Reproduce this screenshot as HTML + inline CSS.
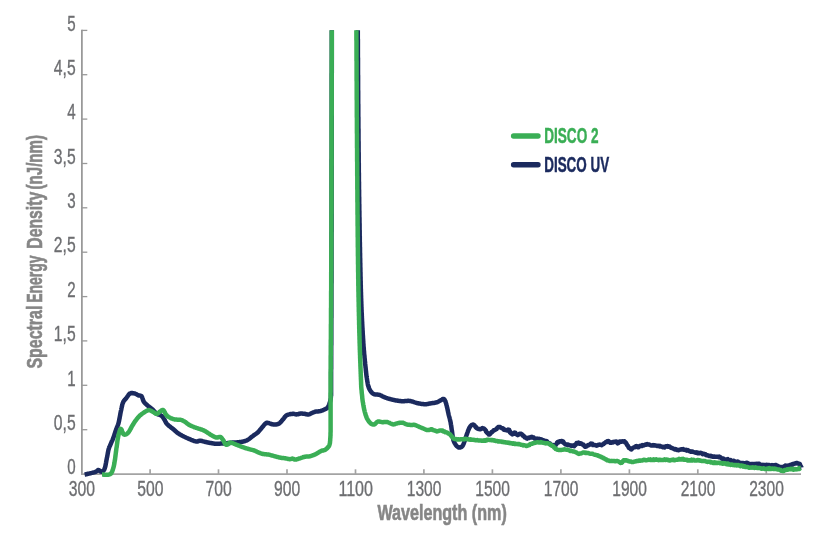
<!DOCTYPE html>
<html lang="en"><head><meta charset="utf-8"><title>Spectral Energy Density</title>
<style>
html,body{margin:0;padding:0;background:#fff;}
body{width:814px;height:540px;overflow:hidden;}
svg{display:block;}
text{font-family:"Liberation Sans",sans-serif;}
.tick{fill:#6d6e71;stroke:#6d6e71;stroke-width:0.35;font-size:21.5px;}
.title{fill:#868686;stroke:#868686;stroke-width:0.6;font-size:21.6px;font-weight:bold;}
.leg{font-size:22.3px;font-weight:bold;stroke-width:0.5;}
</style></head><body>
<svg width="814" height="540" viewBox="0 0 814 540">
<defs><clipPath id="plot"><rect x="70" y="30.3" width="744" height="460"/></clipPath></defs>
<rect width="814" height="540" fill="#ffffff"/>

<g stroke="#a3a3a3" stroke-width="1.7" fill="none">
<path stroke="#8e8e8e" stroke-width="1.6" d="M81.9 29.7V474.80"/>
<path d="M81 474.1H801"/>
<path stroke-width="1.3" stroke="#999" d="M81.7 429.7H87.3"/>
<path stroke-width="1.3" stroke="#999" d="M81.7 385.3H87.3"/>
<path stroke-width="1.3" stroke="#999" d="M81.7 340.9H87.3"/>
<path stroke-width="1.3" stroke="#999" d="M81.7 296.6H87.3"/>
<path stroke-width="1.3" stroke="#999" d="M81.7 252.2H87.3"/>
<path stroke-width="1.3" stroke="#999" d="M81.7 207.8H87.3"/>
<path stroke-width="1.3" stroke="#999" d="M81.7 163.5H87.3"/>
<path stroke-width="1.3" stroke="#999" d="M81.7 119.1H87.3"/>
<path stroke-width="1.3" stroke="#999" d="M81.7 74.7H87.3"/>
<path stroke-width="1.3" stroke="#999" d="M81.7 30.4H87.3"/>
<path d="M150.1 469.3V474.1"/>
<path d="M218.5 469.3V474.1"/>
<path d="M287.0 469.3V474.1"/>
<path d="M355.5 469.3V474.1"/>
<path d="M423.9 469.3V474.1"/>
<path d="M492.4 469.3V474.1"/>
<path d="M560.9 469.3V474.1"/>
<path d="M629.4 469.3V474.1"/>
<path d="M697.8 469.3V474.1"/>
<path d="M766.3 469.3V474.1"/>
</g>
<text class="tick" x="75.6" y="474.2" text-anchor="end" textLength="8.4" lengthAdjust="spacingAndGlyphs">0</text>
<text class="tick" x="75.6" y="429.9" text-anchor="end" textLength="21.8" lengthAdjust="spacingAndGlyphs">0,5</text>
<text class="tick" x="75.6" y="385.5" text-anchor="end" textLength="8.4" lengthAdjust="spacingAndGlyphs">1</text>
<text class="tick" x="75.6" y="341.1" text-anchor="end" textLength="21.8" lengthAdjust="spacingAndGlyphs">1,5</text>
<text class="tick" x="75.6" y="296.8" text-anchor="end" textLength="8.4" lengthAdjust="spacingAndGlyphs">2</text>
<text class="tick" x="75.6" y="252.4" text-anchor="end" textLength="21.8" lengthAdjust="spacingAndGlyphs">2,5</text>
<text class="tick" x="75.6" y="208.0" text-anchor="end" textLength="8.4" lengthAdjust="spacingAndGlyphs">3</text>
<text class="tick" x="75.6" y="163.7" text-anchor="end" textLength="21.8" lengthAdjust="spacingAndGlyphs">3,5</text>
<text class="tick" x="75.6" y="119.3" text-anchor="end" textLength="8.4" lengthAdjust="spacingAndGlyphs">4</text>
<text class="tick" x="75.6" y="74.9" text-anchor="end" textLength="21.8" lengthAdjust="spacingAndGlyphs">4,5</text>
<text class="tick" x="75.6" y="30.6" text-anchor="end" textLength="8.4" lengthAdjust="spacingAndGlyphs">5</text>
<text class="tick" x="81.8" y="496" text-anchor="middle" textLength="26.2" lengthAdjust="spacingAndGlyphs">300</text>
<text class="tick" x="150.3" y="496" text-anchor="middle" textLength="26.2" lengthAdjust="spacingAndGlyphs">500</text>
<text class="tick" x="218.7" y="496" text-anchor="middle" textLength="26.2" lengthAdjust="spacingAndGlyphs">700</text>
<text class="tick" x="287.2" y="496" text-anchor="middle" textLength="26.2" lengthAdjust="spacingAndGlyphs">900</text>
<text class="tick" x="355.7" y="496" text-anchor="middle" textLength="34.6" lengthAdjust="spacingAndGlyphs">1100</text>
<text class="tick" x="424.1" y="496" text-anchor="middle" textLength="34.6" lengthAdjust="spacingAndGlyphs">1300</text>
<text class="tick" x="492.6" y="496" text-anchor="middle" textLength="34.6" lengthAdjust="spacingAndGlyphs">1500</text>
<text class="tick" x="561.1" y="496" text-anchor="middle" textLength="34.6" lengthAdjust="spacingAndGlyphs">1700</text>
<text class="tick" x="629.6" y="496" text-anchor="middle" textLength="34.6" lengthAdjust="spacingAndGlyphs">1900</text>
<text class="tick" x="698.0" y="496" text-anchor="middle" textLength="34.6" lengthAdjust="spacingAndGlyphs">2100</text>
<text class="tick" x="766.5" y="496" text-anchor="middle" textLength="34.6" lengthAdjust="spacingAndGlyphs">2300</text>
<text class="title" x="377.4" y="520.2" textLength="129.4" lengthAdjust="spacingAndGlyphs">Wavelength (nm)</text>
<g transform="translate(42 368.1) rotate(-90)">
<text class="title" x="-0.5" y="0" textLength="63.0" lengthAdjust="spacingAndGlyphs">Spectral</text>
<text class="title" x="65.3" y="0" textLength="47.3" lengthAdjust="spacingAndGlyphs">Energy</text>
<text class="title" x="119.4" y="0" textLength="56.9" lengthAdjust="spacingAndGlyphs">Density</text>
<text class="title" x="178.6" y="0" textLength="54.6" lengthAdjust="spacingAndGlyphs">(nJ/nm)</text>
</g>
<g clip-path="url(#plot)" fill="none" stroke-width="4.5" stroke-linejoin="round" stroke-linecap="butt">
<path stroke="#1b2a5e" d="M84.6 474.6L85.1 474.5L85.7 474.3L86.4 474.2L87.2 474.0L88.0 473.8L88.8 473.6L89.7 473.4L90.4 473.3L91.1 473.1L91.9 472.9L92.6 472.7L93.3 472.6L94.0 472.4L94.6 472.2L95.2 472.0L95.7 471.8L96.4 471.4L97.0 470.9L97.5 470.5L98.0 470.1L98.5 469.9L99.1 470.2L99.7 470.7L100.2 471.3L100.7 471.6L101.3 471.7L102.0 471.6L102.6 471.3L103.2 470.9L103.6 470.5L103.9 470.0L104.3 469.4L104.6 468.6L105.0 467.5L105.2 467.0L105.3 466.3L105.5 465.6L105.6 464.9L105.8 464.1L105.9 463.3L106.1 462.4L106.2 461.6L106.4 460.7L106.5 459.9L106.7 459.1L106.8 458.3L107.0 457.5L107.2 456.7L107.3 455.9L107.5 455.0L107.6 454.2L107.8 453.4L107.9 452.6L108.1 451.8L108.2 451.0L108.4 450.3L108.5 449.6L108.7 449.0L109.0 448.1L109.2 447.4L109.4 446.8L109.7 446.3L110.0 445.7L110.2 445.1L110.6 444.4L110.8 443.8L111.1 443.1L111.4 442.4L111.7 441.7L112.0 441.0L112.4 440.3L112.7 439.5L113.0 438.7L113.3 437.9L113.6 437.2L113.8 436.5L114.1 435.7L114.4 434.9L114.6 434.1L114.9 433.3L115.1 432.5L115.4 431.8L115.6 431.0L115.9 430.3L116.1 429.6L116.4 428.8L116.7 428.1L116.9 427.4L117.2 426.8L117.5 426.2L117.7 425.5L118.0 424.8L118.3 424.0L118.5 423.1L118.7 422.5L118.8 421.8L119.0 421.1L119.1 420.4L119.3 419.7L119.4 418.9L119.6 418.1L119.7 417.3L119.9 416.5L120.0 415.7L120.2 414.9L120.3 414.2L120.4 413.4L120.6 412.7L120.7 412.0L120.9 411.1L121.1 410.3L121.3 409.4L121.4 408.6L121.6 407.8L121.8 406.9L122.0 406.2L122.1 405.4L122.3 404.7L122.5 404.0L122.7 403.3L123.0 402.7L123.3 401.9L123.7 401.2L124.1 400.6L124.5 400.1L125.0 399.6L125.4 399.1L125.9 398.6L126.3 398.1L126.7 397.5L127.2 396.8L127.6 396.2L128.1 395.5L128.5 394.9L129.0 394.3L129.5 393.8L130.0 393.5L130.7 393.2L131.5 393.0L132.3 393.1L133.1 393.2L133.9 393.3L134.6 393.5L135.3 393.7L136.0 394.0L136.6 394.3L137.2 394.7L137.8 395.0L138.3 395.3L139.0 395.5L139.7 395.5L140.3 395.6L140.9 395.8L141.5 396.2L141.8 396.7L142.1 397.3L142.4 398.1L142.7 398.8L142.9 399.6L143.2 400.4L143.5 401.2L143.9 401.8L144.3 402.4L144.8 403.0L145.3 403.5L145.9 404.0L146.4 404.5L147.0 405.0L147.6 405.5L148.1 406.0L148.7 406.4L149.3 406.8L149.8 407.3L150.4 407.7L151.0 408.2L151.6 408.7L152.2 409.2L152.7 409.7L153.2 410.2L153.8 410.8L154.3 411.3L154.8 411.9L155.3 412.5L155.8 413.0L156.3 413.4L156.8 413.8L157.5 414.2L158.2 414.5L158.9 414.7L159.6 414.9L160.3 415.1L160.9 415.4L161.5 415.7L162.1 416.2L162.5 416.8L163.0 417.4L163.4 418.0L163.8 418.7L164.3 419.4L164.6 420.0L165.0 420.6L165.3 421.3L165.7 422.0L166.0 422.7L166.5 423.4L167.0 424.0L167.5 424.5L168.0 424.9L168.5 425.4L169.1 425.9L169.6 426.3L170.2 426.8L170.8 427.3L171.4 427.7L172.0 428.2L172.6 428.6L173.1 429.1L173.7 429.6L174.3 430.1L174.8 430.6L175.4 431.1L175.9 431.5L176.5 432.0L177.0 432.4L177.6 432.9L178.2 433.3L178.8 433.7L179.5 434.2L180.2 434.6L180.8 434.9L181.5 435.3L182.2 435.7L182.9 436.0L183.7 436.4L184.3 436.7L185.0 437.0L185.6 437.4L186.3 437.7L187.0 438.0L187.8 438.3L188.5 438.7L189.2 439.0L189.9 439.2L190.5 439.5L191.1 439.8L191.9 440.1L192.7 440.4L193.4 440.7L194.1 441.0L194.8 441.2L195.5 441.4L196.1 441.5L196.7 441.6L197.4 441.6L198.1 441.3L198.6 441.0L199.2 440.8L200.0 440.7L200.6 440.7L201.2 440.9L201.9 441.0L202.6 441.2L203.4 441.4L204.1 441.6L204.9 441.8L205.6 442.0L206.3 442.1L206.9 442.3L207.6 442.4L208.3 442.6L209.0 442.7L209.7 442.8L210.4 443.0L211.1 443.1L211.8 443.2L212.5 443.3L213.2 443.4L213.9 443.6L214.6 443.7L215.3 443.7L216.0 443.8L216.7 443.8L217.5 443.8L218.3 443.8L219.0 443.7L219.8 443.7L220.6 443.6L221.4 443.5L222.2 443.5L223.0 443.4L223.8 443.4L224.6 443.3L225.4 443.3L226.2 443.2L227.0 443.2L227.8 443.1L228.6 443.0L229.4 442.9L230.2 442.9L231.0 442.8L231.7 442.7L232.5 442.6L233.3 442.5L234.1 442.5L234.9 442.4L235.7 442.4L236.5 442.4L237.3 442.3L238.1 442.3L238.9 442.2L239.6 442.1L240.3 442.0L241.0 441.9L241.8 441.8L242.5 441.7L243.2 441.6L243.8 441.4L244.4 441.2L245.2 441.0L245.9 440.7L246.6 440.5L247.2 440.2L247.8 439.8L248.5 439.4L249.1 439.0L249.7 438.5L250.3 438.1L250.9 437.6L251.5 437.1L252.2 436.5L252.8 436.1L253.3 435.6L253.9 435.2L254.5 434.8L255.1 434.4L255.7 434.0L256.3 433.6L256.9 433.2L257.4 432.7L258.0 432.2L258.5 431.6L259.1 431.0L259.6 430.4L260.1 429.8L260.6 429.2L261.1 428.6L261.6 428.0L262.1 427.4L262.6 426.8L263.1 426.2L263.6 425.6L264.0 425.0L264.4 424.6L265.1 423.9L265.7 423.3L266.3 422.9L267.0 422.7L267.6 422.8L268.3 422.9L269.0 423.2L269.8 423.5L270.5 423.8L271.3 424.0L272.1 424.2L272.9 424.3L273.6 424.5L274.4 424.6L275.2 424.6L275.9 424.6L276.7 424.4L277.5 424.2L278.2 423.9L278.9 423.6L279.6 423.1L280.1 422.7L280.6 422.2L281.1 421.7L281.6 421.1L282.0 420.5L282.5 419.9L283.0 419.4L283.4 418.8L283.9 418.3L284.3 417.7L284.7 417.1L285.2 416.6L285.6 416.1L286.1 415.7L286.8 415.2L287.5 414.9L288.3 414.6L289.1 414.4L289.8 414.2L290.6 414.0L291.3 413.9L292.1 413.9L292.8 413.8L293.5 413.8L294.3 413.9L294.9 414.1L295.6 414.3L296.3 414.4L297.0 414.3L297.9 414.2L298.7 414.0L299.5 413.8L300.0 413.6L300.0 413.5L300.5 413.5L301.2 413.5L302.1 413.6L303.0 413.7L303.9 413.7L304.6 413.8L305.4 414.0L306.2 414.2L306.9 414.4L307.6 414.6L308.3 414.6L308.9 414.4L309.6 414.2L310.2 413.9L310.8 413.5L311.4 413.2L312.0 412.9L312.8 412.6L313.5 412.3L314.2 412.1L314.9 411.8L315.7 411.6L316.5 411.5L317.2 411.4L318.0 411.4L318.8 411.3L319.6 411.2L320.4 411.1L321.0 410.9L321.7 410.6L322.5 410.4L323.1 410.1L323.8 409.8L324.4 409.5L325.0 409.2L325.7 408.9L326.3 408.6L326.8 408.3L327.3 407.9L327.8 407.4L328.1 406.8L328.5 406.2L328.8 405.5L329.1 404.8L329.4 404.0L329.6 403.1L329.8 402.5L330.0 402.0L330.1 401.4L330.3 400.8L330.4 400.2L330.6 399.5L330.7 398.6L330.8 397.7L330.9 396.5L330.9 396.1L331.0 395.8L331.0 395.6L331.0 395.6L331.0 395.6L331.0 395.6L331.0 395.7L331.0 395.8L331.1 395.8L331.1 395.7L331.1 395.5L331.1 395.1L331.1 394.6L331.1 393.9L331.1 392.9L331.1 391.7L331.1 390.2L331.1 388.3L331.1 386.1L331.1 383.5L331.1 380.5L331.1 380.0L331.1 379.6L331.1 379.1L331.1 378.7L331.1 378.2L331.1 377.7L331.1 377.2L331.1 376.8L331.1 376.3L331.1 375.8L331.1 375.3L331.1 374.8L331.1 374.3L331.1 373.8L331.1 373.3L331.1 372.7L331.1 372.2L331.1 371.7L331.1 371.2L331.1 370.6L331.1 370.1L331.1 369.5L331.2 369.0L331.2 368.4L331.2 367.9L331.2 367.3L331.2 366.8L331.2 366.2L331.2 365.6L331.2 365.0L331.2 364.5L331.2 363.9L331.2 363.3L331.2 362.7L331.2 362.1L331.2 361.5L331.2 360.9L331.2 360.2L331.2 359.6L331.2 359.0L331.2 358.4L331.2 357.7L331.2 357.1L331.2 356.5L331.2 355.8L331.2 355.2L331.2 354.5L331.2 353.9L331.2 353.2L331.2 352.5L331.2 351.8L331.2 351.2L331.2 350.5L331.2 349.8L331.2 349.1L331.2 348.4L331.2 347.7L331.2 347.0L331.2 346.3L331.2 345.6L331.3 344.9L331.3 344.1L331.3 343.4L331.3 342.7L331.3 341.9L331.3 341.2L331.3 340.4L331.3 339.7L331.3 338.9L331.3 338.2L331.3 337.4L331.3 336.6L331.3 335.9L331.3 335.1L331.3 334.3L331.3 333.5L331.3 332.7L331.3 331.9L331.3 331.1L331.3 330.3L331.3 329.5L331.3 328.7L331.3 327.9L331.3 327.0L331.3 326.2L331.3 325.4L331.3 324.5L331.3 323.7L331.3 322.8L331.3 322.0L331.3 321.1L331.3 320.2L331.3 319.4L331.3 318.5L331.4 317.6L331.4 316.7L331.4 315.8L331.4 314.9L331.4 314.0L331.4 313.1L331.4 312.2L331.4 311.3L331.4 310.4L331.4 309.5L331.4 308.6L331.4 307.6L331.4 306.7L331.4 305.7L331.4 304.8L331.4 303.8L331.4 302.9L331.4 301.9L331.4 300.9L331.4 300.0L331.4 299.0L331.4 298.0L331.4 297.0L331.4 296.0L331.4 295.0L331.4 294.0L331.4 293.0L331.4 292.0L331.4 291.0L331.4 290.0L331.4 289.0L331.4 287.9L331.4 286.9L331.4 285.8L331.4 284.8L331.4 283.7L331.5 282.7L331.5 281.6L331.5 280.6L331.5 279.5L331.5 278.4L331.5 277.3L331.5 276.2L331.5 275.2L331.5 274.1L331.5 273.0L331.5 271.9L331.5 270.7L331.5 269.6L331.5 268.5L331.5 267.4L331.5 266.2L331.5 265.1L331.5 264.0L331.5 262.8L331.5 261.7L331.5 260.5L331.5 259.9L331.5 259.3L331.5 258.7L331.5 258.0L331.5 257.4L331.5 256.8L331.5 256.1L331.5 255.5L331.5 254.8L331.5 254.2L331.5 253.5L331.5 252.9L331.5 252.2L331.5 251.5L331.5 250.8L331.5 250.1L331.5 249.5L331.5 248.8L331.5 248.1L331.5 247.4L331.5 246.7L331.5 246.0L331.5 245.2L331.5 244.5L331.5 243.8L331.5 243.1L331.5 242.3L331.5 241.6L331.5 240.9L331.5 240.1L331.5 239.4L331.5 238.6L331.5 237.9L331.5 237.1L331.5 236.3L331.5 235.6L331.5 234.8L331.5 234.0L331.5 233.2L331.5 232.5L331.6 231.7L331.6 230.9L331.6 230.1L331.6 229.3L331.6 228.5L331.6 227.7L331.6 226.9L331.6 226.1L331.6 225.2L331.6 224.4L331.6 223.6L331.6 222.8L331.6 222.0L331.6 221.1L331.6 220.3L331.6 219.5L331.6 218.6L331.6 217.8L331.6 216.9L331.6 216.1L331.6 215.2L331.6 214.4L331.6 213.5L331.6 212.7L331.6 211.8L331.6 210.9L331.6 210.1L331.6 209.2L331.6 208.3L331.6 207.5L331.6 206.6L331.6 205.7L331.6 204.8L331.6 203.9L331.6 203.0L331.6 202.2L331.6 201.3L331.6 200.4L331.6 199.5L331.6 198.6L331.6 197.7L331.6 196.8L331.6 195.9L331.6 195.0L331.6 194.1L331.6 193.2L331.6 192.3L331.6 191.3L331.6 190.4L331.6 189.5L331.6 188.6L331.6 187.7L331.6 186.8L331.6 185.8L331.6 184.9L331.6 184.0L331.6 183.1L331.6 182.1L331.6 181.2L331.6 180.3L331.6 179.4L331.6 178.4L331.6 177.5L331.6 176.6L331.6 175.6L331.6 174.7L331.6 173.8L331.6 172.8L331.6 171.9L331.6 170.9L331.6 170.0L331.6 169.1L331.6 168.1L331.6 167.2L331.6 166.2L331.6 165.3L331.6 164.4L331.6 163.4L331.6 162.5L331.6 161.5L331.6 160.6L331.6 159.6L331.7 158.7L331.7 157.7L331.7 156.8L331.7 155.8L331.7 154.9L331.7 154.0L331.7 153.0L331.7 152.1L331.7 151.1L331.7 150.2L331.7 149.2L331.7 148.3L331.7 147.3L331.7 146.4L331.7 145.4L331.7 144.5L331.7 143.6L331.7 142.6L331.7 141.7L331.7 140.7L331.7 139.8L331.7 138.8L331.7 137.9L331.7 137.0L331.7 136.0L331.7 135.1L331.7 134.1L331.7 133.2L331.7 132.3L331.7 131.3L331.7 130.4L331.7 129.5L331.7 128.5L331.7 127.6L331.7 126.7L331.7 125.8L331.7 124.8L331.7 123.9L331.7 123.0L331.7 122.0L331.7 121.1L331.7 120.2L331.7 119.3L331.7 118.4L331.7 117.5L331.7 116.5L331.7 115.6L331.7 114.7L331.7 113.8L331.7 112.9L331.7 112.0L331.7 111.1L331.7 110.2L331.7 109.3L331.7 108.4L331.7 107.5L331.7 106.6L331.7 105.7L331.7 104.8L331.7 103.9L331.7 103.0L331.7 102.2L331.7 101.3L331.7 100.4L331.7 99.5L331.7 98.6L331.7 97.8L331.7 96.9L331.7 96.0L331.7 95.2L331.7 94.3L331.7 93.4L331.7 92.6L331.7 91.7L331.7 90.9L331.7 90.0L331.7 89.2L331.7 88.4L331.7 87.5L331.7 86.7L331.7 85.8L331.7 85.0L331.7 84.2L331.7 83.4L331.7 82.5L331.7 81.7L331.7 80.9L331.7 80.1L331.7 79.3L331.7 78.5L331.7 77.7L331.7 76.9L331.7 76.1L331.7 75.3L331.7 74.5L331.7 73.7L331.8 73.0L331.8 72.2L331.8 71.4L331.8 70.6L331.8 69.9L331.8 69.1L331.8 68.4L331.8 67.6L331.8 66.9L331.8 66.1L331.8 65.4L331.8 64.6L331.8 63.9L331.8 63.2L331.8 62.5L331.8 61.7L331.8 61.0L331.8 60.3L331.8 59.6L331.8 58.9L331.8 58.2L331.8 57.5L331.8 56.8L331.8 56.1L331.8 55.5L331.8 54.8L331.8 54.1L331.8 53.5L331.8 52.8L331.8 52.1L331.8 51.5L331.8 50.8L331.8 50.2L331.8 49.6L331.8 48.9L331.8 48.3L331.8 47.7L331.8 47.1L331.8 46.5L331.8 45.9L331.8 45.3L331.8 44.7L331.8 44.1L331.8 43.5L331.8 42.9L331.8 42.4L331.8 41.8L331.8 41.2L331.8 40.7L331.8 40.1L331.8 39.6L331.8 39.1L331.8 38.5L331.8 38.0L331.8 37.5L331.8 37.0L331.8 36.5L331.8 36.0L331.8 35.5L331.8 35.0L331.8 34.5L331.8 34.0L331.8 33.5L331.8 33.1L331.8 32.6L331.8 32.2L331.8 31.7L331.8 31.3L331.8 30.8L331.8 30.4L331.8 30.0L331.8 22.0L331.8 16.2L331.8 12.4L331.8 10.3L331.8 9.6L331.8 10.1L331.8 11.3L331.8 13.1L331.8 15.1L331.8 17.1L331.8 18.8L331.8 19.8L331.8 20.0M357.8 20.0L357.8 20.2L357.8 20.3L357.8 20.2L357.8 20.0L357.8 19.9L357.8 19.9L357.8 20.1L357.8 20.6L357.8 21.4L357.8 22.7L357.8 24.5L357.8 26.9L357.8 30.0L357.8 30.5L357.8 30.9L357.8 31.4L357.8 31.9L357.8 32.4L357.8 32.9L357.8 33.4L357.8 34.0L357.8 34.5L357.8 35.1L357.8 35.7L357.8 36.3L357.8 36.8L357.8 37.5L357.8 38.1L357.8 38.7L357.9 39.3L357.9 40.0L357.9 40.6L357.9 41.3L357.9 42.0L357.9 42.7L357.9 43.4L357.9 44.1L357.9 44.8L357.9 45.5L357.9 46.2L357.9 46.9L357.9 47.7L357.9 48.4L357.9 49.2L357.9 50.0L357.9 50.7L357.9 51.5L357.9 52.3L357.9 53.1L357.9 53.9L357.9 54.7L357.9 55.5L357.9 56.3L357.9 57.2L358.0 58.0L358.0 58.8L358.0 59.7L358.0 60.5L358.0 61.4L358.0 62.2L358.0 63.1L358.0 63.9L358.0 64.8L358.0 65.7L358.0 66.6L358.0 67.4L358.0 68.3L358.0 69.2L358.0 70.1L358.0 71.0L358.0 71.9L358.0 72.8L358.0 73.7L358.0 74.6L358.1 75.5L358.1 76.4L358.1 77.3L358.1 78.2L358.1 79.1L358.1 80.0L358.1 81.0L358.1 81.9L358.1 82.8L358.1 83.7L358.1 84.6L358.1 85.5L358.1 86.5L358.1 87.4L358.1 88.3L358.1 89.2L358.1 90.1L358.2 91.0L358.2 91.9L358.2 92.8L358.2 93.8L358.2 94.7L358.2 95.6L358.2 96.5L358.2 97.4L358.2 98.3L358.2 99.2L358.2 100.1L358.2 100.9L358.2 101.8L358.2 102.7L358.2 103.6L358.3 104.5L358.3 105.4L358.3 106.2L358.3 107.1L358.3 107.9L358.3 108.8L358.3 109.7L358.3 110.5L358.3 111.3L358.3 112.0L358.3 112.8L358.3 113.5L358.3 114.3L358.3 115.1L358.3 115.8L358.3 116.6L358.4 117.3L358.4 118.1L358.4 118.9L358.4 119.7L358.4 120.4L358.4 121.2L358.4 122.0L358.4 122.7L358.4 123.5L358.4 124.3L358.4 125.1L358.4 125.9L358.4 126.6L358.4 127.4L358.4 128.2L358.5 129.0L358.5 129.8L358.5 130.6L358.5 131.3L358.5 132.1L358.5 132.9L358.5 133.7L358.5 134.5L358.5 135.3L358.5 136.1L358.5 136.9L358.5 137.7L358.5 138.5L358.5 139.3L358.5 140.1L358.5 140.9L358.6 141.7L358.6 142.5L358.6 143.3L358.6 144.1L358.6 144.9L358.6 145.7L358.6 146.5L358.6 147.3L358.6 148.1L358.6 148.9L358.6 149.7L358.6 150.5L358.6 151.3L358.6 152.1L358.7 152.9L358.7 153.7L358.7 154.5L358.7 155.3L358.7 156.1L358.7 156.9L358.7 157.7L358.7 158.5L358.7 159.3L358.7 160.2L358.7 161.0L358.7 161.8L358.7 162.6L358.8 163.4L358.8 164.2L358.8 165.0L358.8 165.8L358.8 166.6L358.8 167.4L358.8 168.3L358.8 169.1L358.8 169.9L358.8 170.7L358.8 171.5L358.8 172.3L358.9 173.1L358.9 173.9L358.9 174.7L358.9 175.6L358.9 176.4L358.9 177.2L358.9 178.0L358.9 178.8L358.9 179.6L358.9 180.4L358.9 181.2L359.0 182.0L359.0 182.8L359.0 183.6L359.0 184.4L359.0 185.3L359.0 186.1L359.0 186.9L359.0 187.7L359.0 188.5L359.0 189.3L359.1 190.1L359.1 190.9L359.1 191.7L359.1 192.5L359.1 193.3L359.1 194.1L359.1 194.9L359.1 195.7L359.1 196.5L359.2 197.3L359.2 198.1L359.2 198.9L359.2 199.7L359.2 200.5L359.2 201.3L359.2 202.1L359.2 202.9L359.2 203.7L359.3 204.5L359.3 205.3L359.3 206.1L359.3 207.0L359.3 207.8L359.3 208.6L359.3 209.4L359.3 210.3L359.4 211.1L359.4 211.9L359.4 212.8L359.4 213.6L359.4 214.4L359.4 215.3L359.4 216.1L359.4 216.9L359.5 217.8L359.5 218.6L359.5 219.5L359.5 220.3L359.5 221.2L359.5 222.0L359.5 222.9L359.6 223.7L359.6 224.6L359.6 225.4L359.6 226.3L359.6 227.1L359.6 228.0L359.6 228.8L359.6 229.7L359.7 230.6L359.7 231.4L359.7 232.3L359.7 233.1L359.7 234.0L359.7 234.8L359.7 235.7L359.8 236.5L359.8 237.4L359.8 238.2L359.8 239.1L359.8 240.0L359.8 240.8L359.8 241.7L359.9 242.5L359.9 243.4L359.9 244.2L359.9 245.0L359.9 245.9L359.9 246.7L360.0 247.6L360.0 248.4L360.0 249.3L360.0 250.1L360.0 250.9L360.0 251.8L360.0 252.6L360.1 253.4L360.1 254.3L360.1 255.1L360.1 255.9L360.1 256.7L360.1 257.5L360.2 258.4L360.2 259.2L360.2 260.0L360.2 260.8L360.2 261.6L360.2 262.4L360.3 263.2L360.3 264.0L360.3 264.8L360.3 265.6L360.3 266.4L360.3 267.1L360.4 267.9L360.4 268.7L360.4 269.5L360.4 270.2L360.4 271.0L360.4 271.8L360.5 272.5L360.5 273.3L360.5 274.0L360.5 274.8L360.5 275.5L360.5 276.2L360.6 277.0L360.6 277.7L360.6 278.4L360.6 279.1L360.6 279.8L360.6 280.5L360.7 281.3L360.7 281.9L360.7 282.6L360.7 283.3L360.7 284.0L360.7 284.7L360.8 285.4L360.8 286.0L360.8 286.7L360.8 287.3L360.8 288.0L360.8 288.6L360.9 289.2L360.9 289.9L360.9 290.5L360.9 291.6L361.0 292.7L361.0 293.8L361.0 294.8L361.1 295.9L361.1 296.9L361.1 297.9L361.2 298.9L361.2 299.9L361.2 300.9L361.3 301.9L361.3 302.8L361.3 303.8L361.4 304.7L361.4 305.6L361.4 306.5L361.5 307.4L361.5 308.3L361.5 309.2L361.6 310.0L361.6 310.9L361.6 311.7L361.7 312.5L361.7 313.4L361.8 314.2L361.8 315.0L361.8 315.8L361.9 316.6L361.9 317.3L361.9 318.1L362.0 318.9L362.0 319.6L362.0 320.4L362.1 321.1L362.1 321.8L362.2 322.6L362.2 323.3L362.2 324.0L362.3 324.7L362.3 325.4L362.3 326.1L362.4 326.8L362.4 327.5L362.5 328.2L362.5 328.8L362.5 329.5L362.6 330.2L362.6 330.8L362.7 331.5L362.7 332.2L362.7 332.8L362.8 333.5L362.8 334.1L362.8 334.8L362.9 335.4L362.9 336.0L363.0 336.7L363.0 337.3L363.0 338.0L363.1 338.6L363.1 339.2L363.2 339.9L363.2 340.5L363.3 341.5L363.3 342.6L363.4 343.6L363.5 344.6L363.5 345.6L363.6 346.6L363.7 347.5L363.8 348.5L363.8 349.4L363.9 350.3L364.0 351.2L364.1 352.1L364.1 353.0L364.2 353.9L364.3 354.7L364.4 355.6L364.5 356.4L364.5 357.2L364.6 358.0L364.7 358.8L364.8 359.6L364.8 360.3L364.9 361.0L365.0 361.8L365.1 362.5L365.1 363.2L365.2 363.9L365.3 364.5L365.3 365.2L365.4 365.8L365.5 366.5L365.5 367.1L365.6 367.7L365.7 368.3L365.7 368.9L365.8 369.4L365.8 370.0L365.9 370.5L366.0 371.9L366.2 373.2L366.3 374.3L366.4 375.2L366.5 376.0L366.6 376.7L366.7 377.3L366.8 377.9L366.9 378.4L366.9 378.9L367.0 379.4L367.1 379.9L367.2 380.5L367.3 381.4L367.5 382.2L367.6 382.9L367.7 383.6L367.8 384.2L367.9 384.8L368.1 385.5L368.3 386.1L368.6 386.9L368.8 387.6L369.1 388.4L369.5 389.1L369.8 389.8L370.2 390.5L370.6 391.1L371.1 391.7L371.5 392.3L372.0 392.9L372.6 393.3L373.2 393.7L373.9 394.1L374.5 394.3L375.2 394.4L375.9 394.5L376.7 394.6L377.5 394.6L378.2 394.7L378.9 394.8L379.6 394.9L380.3 395.2L381.0 395.5L381.6 395.8L382.3 396.2L382.9 396.5L383.6 396.9L384.3 397.2L384.9 397.4L385.6 397.7L386.2 397.9L386.9 398.1L387.6 398.4L388.3 398.6L389.1 398.8L389.8 399.0L390.5 399.2L391.2 399.4L391.9 399.6L392.6 399.7L393.4 399.9L394.1 400.1L394.8 400.2L395.6 400.4L396.3 400.5L397.0 400.6L397.7 400.7L398.5 400.8L399.2 400.9L399.9 401.0L400.6 401.1L401.3 401.2L402.1 401.2L402.8 401.2L403.5 401.2L404.2 401.2L405.0 401.1L405.7 401.1L406.4 401.0L407.2 400.9L407.9 400.8L408.6 400.8L409.3 400.9L410.0 401.0L410.7 401.1L411.4 401.3L412.1 401.5L412.8 401.7L413.5 401.9L414.1 402.2L414.8 402.4L415.6 402.6L416.3 402.8L417.0 403.0L417.8 403.2L418.5 403.3L419.2 403.5L420.0 403.6L420.8 403.8L421.6 403.9L422.4 404.0L423.2 404.1L424.0 404.2L424.8 404.2L425.6 404.2L426.3 404.2L426.9 404.1L427.6 404.0L428.3 403.8L429.0 403.7L429.7 403.5L430.4 403.4L431.1 403.3L431.8 403.2L432.5 403.1L433.3 403.0L434.0 402.9L434.7 402.8L435.4 402.6L436.1 402.5L436.7 402.4L437.4 402.1L438.1 401.8L438.7 401.5L439.3 401.1L439.8 400.8L440.4 400.5L441.2 400.0L441.9 399.6L442.5 399.2L443.1 399.0L443.8 399.1L444.4 399.6L445.0 400.5L445.2 401.0L445.5 401.6L445.7 402.3L445.9 403.0L446.2 403.8L446.4 404.7L446.6 405.5L446.9 406.4L447.0 407.1L447.2 407.8L447.4 408.6L447.5 409.3L447.7 410.1L447.9 410.9L448.0 411.7L448.2 412.5L448.4 413.3L448.5 414.0L448.7 414.8L448.9 415.5L449.1 416.3L449.3 417.0L449.5 417.7L449.7 418.5L449.9 419.2L450.0 419.9L450.2 420.6L450.4 421.4L450.6 422.2L450.7 422.9L450.8 423.6L450.9 424.4L451.1 425.1L451.2 425.8L451.3 426.6L451.4 427.4L451.5 428.1L451.6 428.9L451.7 429.7L451.9 430.5L452.0 431.3L452.1 432.0L452.2 432.8L452.3 433.7L452.4 434.5L452.5 435.3L452.6 436.1L452.7 436.9L452.9 437.7L453.0 438.4L453.2 439.1L453.3 439.8L453.6 440.7L453.9 441.5L454.3 442.3L454.6 443.0L455.0 443.6L455.4 444.2L455.7 444.8L456.1 445.3L456.7 446.0L457.4 446.6L458.0 447.1L458.6 447.4L459.3 447.5L459.9 447.6L460.5 447.4L461.1 447.2L461.7 446.8L462.2 446.2L462.6 445.8L462.9 445.3L463.2 444.7L463.5 444.0L463.8 443.3L464.1 442.5L464.4 441.6L464.7 441.0L464.9 440.3L465.2 439.6L465.4 438.8L465.7 438.0L465.9 437.1L466.2 436.3L466.4 435.5L466.7 434.7L467.0 434.0L467.2 433.3L467.5 432.5L467.8 431.6L468.1 430.8L468.4 430.0L468.7 429.3L469.0 428.6L469.3 427.9L469.7 427.3L470.0 426.8L470.5 426.1L471.1 425.5L471.6 425.1L472.2 424.8L472.8 424.6L473.3 424.6L473.9 424.8L474.4 425.3L474.9 425.9L475.6 427.1L475.9 426.8L476.6 428.1L477.1 428.4L477.8 428.7L478.3 428.9L479.2 429.0L480.1 429.2L480.7 429.3L481.5 428.7L482.3 428.1L483.1 428.5L484.0 428.5L484.5 429.0L484.8 429.3L485.3 430.0L486.0 430.8L486.1 431.6L486.8 432.4L487.3 432.8L487.9 433.5L488.5 433.6L488.8 434.6L489.5 434.5L490.0 433.9L490.6 433.4L491.1 432.8L491.7 431.9L492.2 431.8L492.9 431.1L493.4 430.8L494.0 429.9L494.6 430.0L495.2 429.8L495.9 429.4L496.6 429.0L497.2 428.1L497.8 427.8L498.3 427.0L499.1 426.9L499.5 426.9L500.3 427.2L500.8 427.6L501.3 427.9L502.0 428.3L502.8 428.3L503.3 428.6L503.9 429.7L504.7 429.5L505.4 430.1L505.9 430.0L506.6 430.4L507.2 430.5L507.8 430.2L508.2 429.6L508.8 430.4L509.3 430.2L509.5 431.0L509.9 432.3L510.4 432.1L510.9 433.4L511.2 433.5L511.7 433.7L512.4 434.4L513.1 434.0L513.8 433.3L514.4 432.7L514.9 433.1L515.5 432.9L515.9 434.2L516.6 434.4L517.1 434.6L517.8 435.1L518.7 434.6L519.5 433.8L520.1 433.8L520.8 433.7L521.6 434.0L522.3 434.8L522.8 435.6L523.1 435.4L523.7 435.8L524.3 436.6L524.7 437.3L525.4 437.5L525.8 437.5L526.4 438.2L527.1 438.6L527.8 437.9L528.5 437.8L529.2 437.9L530.0 437.5L530.7 437.0L531.3 437.5L532.0 436.9L532.5 437.2L533.2 437.4L533.7 437.5L534.4 438.5L535.2 438.6L535.7 438.9L536.4 439.5L537.2 438.6L537.8 438.7L538.7 439.5L539.3 438.8L540.0 439.3L540.8 439.3L541.5 439.4L542.4 440.0L543.0 440.0L543.7 440.4L544.4 440.8L545.2 441.4L545.8 441.0L546.8 441.2L547.5 442.1L547.9 442.5L548.7 442.9L549.3 443.4L549.9 443.5L550.4 444.4L551.1 444.4L552.0 445.2L552.7 445.5L553.3 445.1L554.1 445.4L554.9 445.2L555.5 445.4L555.9 444.7L556.7 443.6L557.0 442.7L557.5 442.1L558.4 442.5L558.9 441.8L559.6 441.2L560.4 441.4L561.1 441.2L561.8 441.0L562.5 442.1L563.2 441.6L563.6 442.6L564.3 443.3L564.8 443.7L565.5 444.5L565.8 444.5L566.5 444.6L567.4 444.9L568.0 444.5L568.7 444.9L569.5 445.3L570.1 445.3L570.7 445.7L571.5 445.6L572.3 445.7L572.9 445.4L573.6 445.7L574.3 446.2L574.8 444.8L575.5 444.9L576.0 444.2L576.6 443.0L577.1 443.3L577.8 443.4L578.5 442.7L579.0 443.5L579.8 443.7L580.6 443.3L581.2 443.4L581.8 444.0L582.6 444.5L583.3 444.5L583.6 445.0L584.4 446.0L584.9 446.7L585.4 446.8L586.0 446.5L586.6 446.3L587.5 445.4L588.2 445.0L588.8 445.2L589.6 444.6L590.1 444.4L590.9 443.5L591.6 443.9L592.3 443.8L593.0 445.1L593.7 445.0L594.5 445.1L595.1 445.1L595.8 445.3L596.4 445.7L597.1 445.5L598.0 445.0L598.5 444.7L599.1 444.7L599.9 444.6L600.8 444.8L601.4 445.2L602.0 444.7L602.5 444.7L603.3 444.2L603.8 443.6L604.2 443.4L604.7 442.9L605.3 442.6L605.9 442.1L606.6 442.1L607.1 441.4L607.5 441.7L608.2 441.0L609.0 441.5L609.6 442.1L610.3 442.8L611.1 442.8L611.9 442.3L612.6 442.0L613.2 442.4L613.9 441.9L614.5 441.7L615.1 441.6L615.7 441.5L616.2 441.4L616.6 442.4L617.1 442.7L617.7 443.5L618.6 442.9L619.3 442.2L619.7 441.6L620.5 441.5L621.4 441.8L622.0 441.5L622.6 441.2L623.3 441.5L624.0 441.2L624.4 441.3L624.9 442.4L625.5 442.2L625.9 442.8L626.3 443.4L626.7 444.1L627.1 445.1L627.6 445.5L627.9 445.8L628.5 447.2L628.9 447.9L629.7 448.3L630.3 448.6L630.7 449.1L631.4 449.4L632.2 448.5L632.9 447.8L633.5 447.6L634.3 447.2L634.9 447.2L635.3 446.4L635.8 446.3L636.6 446.0L637.1 446.4L637.7 447.2L638.1 446.8L638.7 447.2L639.5 446.2L640.1 445.7L640.8 445.8L641.7 446.0L642.4 445.1L643.0 445.2L643.6 445.4L644.3 445.1L645.2 444.5L645.8 444.8L646.6 444.6L647.2 444.1L647.7 444.3L648.4 444.4L649.2 444.5L650.0 444.9L650.8 445.4L651.4 445.4L652.1 445.6L653.0 445.0L653.6 445.5L654.4 445.3L655.2 445.5L656.0 445.5L656.7 446.0L657.3 445.8L658.1 446.1L658.7 445.7L659.4 446.3L660.0 445.8L660.6 446.2L661.5 446.7L662.3 447.0L662.9 447.3L663.8 446.8L664.5 447.4L665.1 446.9L665.8 446.3L666.7 446.4L667.5 446.0L668.3 446.8L668.8 446.6L669.7 446.6L670.3 447.4L671.1 447.9L671.8 447.8L672.6 448.3L673.2 448.6L674.0 448.9L674.7 449.4L675.5 449.1L676.3 449.4L676.9 450.1L677.8 450.1L678.5 450.2L679.2 449.9L679.9 449.8L680.8 449.4L681.6 449.2L682.3 449.5L683.2 449.1L683.8 449.8L684.7 449.7L685.5 450.2L686.2 449.9L687.0 450.6L687.9 450.1L688.4 450.4L689.0 450.7L689.7 451.3L690.4 451.2L691.0 451.8L691.6 451.7L692.4 451.5L693.1 451.9L694.0 452.2L694.7 452.4L695.5 452.7L696.2 452.3L697.2 453.1L697.7 452.6L698.4 453.3L699.1 453.2L699.7 452.9L700.5 452.8L701.2 453.0L701.9 453.4L702.6 454.1L703.3 453.8L703.9 453.8L704.8 454.3L705.5 454.2L705.9 455.0L706.7 455.2L707.3 455.3L708.2 455.5L708.9 456.0L709.6 456.1L710.1 455.8L710.8 456.2L711.6 456.1L712.3 456.6L713.1 456.8L713.7 456.4L714.5 456.5L715.2 456.8L716.2 456.7L717.1 456.8L717.7 456.7L718.5 457.2L719.3 456.6L720.1 457.1L720.7 457.6L721.3 458.2L721.8 458.7L722.7 458.5L723.3 458.5L723.9 459.6L724.5 459.7L725.5 459.5L726.2 459.5L726.9 459.8L727.8 459.2L728.6 460.2L729.1 460.1L729.7 460.5L730.6 460.1L731.1 460.8L731.7 461.1L732.4 461.0L733.1 460.8L733.9 460.8L734.6 461.4L735.3 461.6L736.2 461.7L737.1 461.7L737.8 461.6L738.4 462.1L739.1 462.8L739.7 462.7L740.5 462.9L741.1 463.4L741.8 463.0L742.4 463.1L743.3 463.0L744.1 463.8L744.8 463.3L745.6 463.0L746.3 462.9L747.1 462.7L748.0 463.5L748.5 463.6L749.3 463.7L750.0 464.5L750.7 464.3L751.4 464.0L752.2 464.1L752.9 464.1L753.7 464.2L754.6 464.0L755.2 464.2L756.1 463.8L756.9 463.9L757.5 464.0L758.4 463.7L759.2 463.8L759.8 464.6L760.6 464.6L761.2 465.0L762.0 465.3L762.8 464.8L763.5 465.2L764.4 465.0L765.1 465.1L765.9 465.1L766.7 464.7L767.5 465.1L768.2 465.0L768.8 464.9L769.6 465.1L770.4 465.6L771.4 465.4L772.1 465.1L772.7 465.2L773.6 465.5L774.4 465.8L775.1 465.1L776.1 465.1L776.7 465.9L777.6 465.7L778.5 466.5L779.2 466.8L779.8 466.9L780.5 467.2L781.4 467.1L782.0 467.4L782.6 467.2L783.4 467.0L784.0 466.4L784.5 466.7L785.3 465.7L785.8 466.0L786.6 465.8L787.4 466.0L788.1 465.6L788.9 465.4L789.6 465.2L790.5 464.8L791.3 465.2L792.0 464.7L792.5 464.1L793.2 464.4L794.1 463.6L794.6 463.5L795.5 463.6L796.2 463.0L796.8 463.1L797.4 463.1L798.1 463.6L799.0 463.7L799.6 463.9L799.9 464.2L800.2 465.1L800.7 466.2L800.9 466.9L801.3 466.9L801.4 467.5"/>
<path stroke="#3aae55" d="M102.0 474.6L102.5 474.6L103.1 474.6L103.9 474.7L104.7 474.7L105.6 474.7L106.5 474.7L107.3 474.7L108.1 474.7L108.7 474.6L109.6 474.3L110.2 474.1L110.8 473.7L111.3 473.1L111.8 472.2L112.1 471.7L112.3 471.1L112.6 470.4L112.8 469.8L113.0 469.0L113.2 468.3L113.5 467.5L113.7 466.6L113.9 465.7L114.1 464.8L114.3 463.8L114.4 463.2L114.5 462.5L114.6 461.8L114.7 461.1L114.8 460.4L115.0 459.6L115.1 458.8L115.2 458.0L115.3 457.2L115.4 456.4L115.5 455.6L115.6 454.8L115.7 454.0L115.8 453.2L115.9 452.4L116.0 451.6L116.1 450.9L116.2 450.1L116.3 449.3L116.4 448.5L116.5 447.7L116.7 446.9L116.8 446.1L116.9 445.3L117.0 444.4L117.1 443.6L117.2 442.9L117.3 442.1L117.4 441.3L117.5 440.6L117.6 439.9L117.7 439.2L117.9 438.5L118.0 437.9L118.1 436.9L118.3 436.0L118.5 435.1L118.7 434.3L118.9 433.5L119.1 432.8L119.3 432.1L119.5 431.5L119.6 431.0L119.8 430.5L120.2 429.3L120.6 428.8L121.1 429.0L121.4 429.4L121.6 430.0L121.9 430.7L122.2 431.5L122.5 432.3L122.9 433.1L123.2 433.8L123.5 434.2L124.2 434.6L124.9 434.7L125.6 434.5L126.3 434.2L126.8 433.9L127.4 433.5L127.9 432.9L128.5 432.3L129.1 431.4L129.4 430.9L129.8 430.4L130.1 429.7L130.5 429.1L130.9 428.4L131.3 427.6L131.6 426.9L132.0 426.2L132.4 425.6L132.8 424.9L133.2 424.3L133.6 423.6L134.0 423.0L134.4 422.3L134.8 421.7L135.2 421.1L135.7 420.5L136.1 419.9L136.5 419.4L137.0 418.7L137.5 418.1L138.0 417.5L138.5 416.9L139.1 416.4L139.6 415.8L140.2 415.3L140.7 414.8L141.3 414.4L141.9 413.9L142.5 413.5L143.1 413.1L143.7 412.7L144.3 412.3L144.8 412.0L145.5 411.5L146.2 411.1L146.9 410.7L147.5 410.4L148.2 410.2L148.9 410.1L149.6 410.2L150.3 410.5L151.0 410.8L151.8 411.2L152.5 411.6L153.2 412.0L153.8 412.3L154.4 412.8L155.0 413.2L155.6 413.6L156.2 413.8L156.8 413.8L157.5 413.6L158.1 413.2L158.8 412.6L159.4 412.0L160.0 411.5L160.6 411.1L161.3 410.6L162.0 410.1L162.7 409.9L163.3 410.1L163.7 410.5L164.1 411.1L164.5 411.8L164.9 412.6L165.2 413.4L165.7 414.1L166.1 414.8L166.7 415.3L167.2 415.9L167.8 416.3L168.5 416.8L169.1 417.2L169.8 417.5L170.4 417.9L171.0 418.2L171.6 418.5L172.3 418.7L173.0 419.0L173.7 419.2L174.4 419.4L175.1 419.5L175.8 419.6L176.6 419.6L177.3 419.7L178.1 419.7L178.9 419.7L179.6 419.8L180.3 419.8L180.9 419.9L181.7 420.1L182.3 420.4L182.9 420.6L183.4 420.9L184.0 421.2L184.6 421.6L185.2 422.0L185.7 422.3L186.3 422.8L186.8 423.2L187.4 423.7L188.0 424.1L188.6 424.6L189.3 424.9L189.9 425.3L190.6 425.6L191.3 425.9L192.0 426.2L192.7 426.5L193.4 426.8L194.1 427.1L194.8 427.4L195.6 427.6L196.3 427.9L197.1 428.1L197.8 428.3L198.6 428.6L199.3 428.8L200.0 429.0L200.7 429.3L201.4 429.5L202.0 429.7L202.7 430.0L203.3 430.3L204.0 430.5L204.6 430.9L205.3 431.2L206.0 431.7L206.7 432.1L207.3 432.6L208.0 433.0L208.6 433.4L209.3 433.8L209.9 434.3L210.6 434.7L211.2 435.0L211.8 435.4L212.4 435.7L213.0 436.1L213.7 436.4L214.4 436.8L215.2 437.1L215.9 437.4L216.7 437.5L217.4 437.5L218.2 437.3L219.0 437.0L219.7 436.9L220.4 437.0L220.9 437.3L221.4 437.7L221.8 438.3L222.3 438.9L222.7 439.5L223.2 440.1L223.5 440.7L223.9 441.4L224.2 442.1L224.6 442.8L224.9 443.5L225.2 444.0L225.6 444.4L226.3 444.8L227.0 444.7L227.8 444.4L228.3 444.0L228.8 443.4L229.3 442.8L230.0 442.5L230.6 442.6L231.3 442.7L232.0 443.0L232.7 443.2L233.5 443.5L234.3 443.8L234.9 444.1L235.5 444.3L236.2 444.6L236.8 444.9L237.5 445.1L238.2 445.4L238.9 445.7L239.5 445.9L240.2 446.2L240.9 446.5L241.6 446.7L242.3 447.0L243.0 447.2L243.7 447.5L244.4 447.7L245.1 448.0L245.9 448.2L246.6 448.4L247.3 448.6L248.1 448.8L248.7 449.0L249.4 449.2L250.0 449.4L250.8 449.6L251.6 449.8L252.2 449.9L252.9 450.1L253.7 450.3L254.3 450.5L255.0 450.8L255.6 451.1L256.3 451.4L257.0 451.8L257.7 452.1L258.3 452.4L259.0 452.6L259.6 452.9L260.3 453.2L260.9 453.4L261.6 453.6L262.2 453.8L263.0 454.0L263.7 454.1L264.5 454.2L265.3 454.3L266.1 454.3L266.9 454.4L267.7 454.5L268.5 454.6L269.2 454.7L269.9 454.9L270.6 455.1L271.3 455.3L272.0 455.5L272.7 455.7L273.4 455.9L274.1 456.1L274.8 456.3L275.5 456.4L276.2 456.6L276.8 456.8L277.5 457.0L278.2 457.2L278.9 457.4L279.6 457.5L280.3 457.7L281.0 457.8L281.8 457.9L282.5 457.9L283.2 458.0L283.9 458.1L284.5 458.2L285.2 458.3L286.0 458.4L286.9 458.6L287.7 458.8L288.4 459.0L289.2 459.1L289.8 459.2L290.6 459.1L291.3 458.9L291.9 458.7L292.6 458.6L293.2 458.8L293.9 459.2L294.5 459.5L295.4 459.6L295.9 459.5L296.6 459.4L297.2 459.2L297.9 459.0L298.6 458.7L299.3 458.5L300.0 458.3L300.7 458.1L301.3 457.8L302.0 457.6L302.6 457.4L303.3 457.1L304.0 457.0L304.6 456.8L305.4 456.7L306.2 456.6L306.9 456.6L307.7 456.6L308.5 456.5L309.3 456.4L309.9 456.3L310.6 456.1L311.3 455.9L312.0 455.7L312.6 455.4L313.3 455.2L313.9 454.9L314.6 454.7L315.2 454.4L315.8 454.1L316.4 453.7L317.0 453.4L317.6 453.1L318.2 452.7L318.8 452.3L319.4 451.9L320.1 451.5L320.7 451.2L321.3 450.9L322.1 450.6L322.8 450.5L323.6 450.4L324.3 450.2L325.0 449.9L325.6 449.6L326.2 449.1L326.8 448.6L327.3 448.1L327.8 447.5L328.2 447.0L328.6 446.5L329.0 446.0L329.3 445.3L329.6 444.5L329.7 443.9L329.9 443.3L330.0 442.6L330.0 441.9L330.1 441.2L330.2 440.4L330.2 439.5L330.3 438.5L330.3 437.9L330.4 437.4L330.4 436.8L330.4 436.3L330.5 435.8L330.5 435.2L330.5 434.5L330.5 433.8L330.5 433.0L330.6 432.1L330.6 431.1L330.6 429.9L330.6 428.5L330.6 427.9L330.6 427.3L330.6 426.7L330.6 426.1L330.6 425.4L330.6 424.7L330.6 423.9L330.6 423.2L330.6 422.4L330.6 421.6L330.6 420.8L330.6 419.9L330.6 419.1L330.6 418.2L330.6 417.3L330.6 416.5L330.6 415.6L330.6 414.7L330.6 413.8L330.6 412.9L330.6 412.0L330.6 411.1L330.6 410.2L330.6 409.3L330.6 408.4L330.6 407.6L330.6 406.7L330.6 405.9L330.6 405.0L330.6 404.2L330.6 403.4L330.6 402.7L330.6 401.9L330.6 401.2L330.6 400.5L330.6 399.6L330.6 398.9L330.6 398.4L330.6 397.9L330.6 397.6L330.6 397.3L330.6 397.1L330.6 397.0L330.6 396.9L330.6 396.7L330.6 396.6L330.6 396.4L330.6 396.1L330.6 395.8L330.5 395.3L330.5 394.7L330.5 394.0L330.5 393.1L330.6 392.1L330.6 390.8L330.6 389.3L330.6 387.5L330.6 385.5L330.6 383.1L330.6 380.5L330.6 380.0L330.6 379.6L330.6 379.1L330.6 378.6L330.6 378.1L330.6 377.6L330.6 377.0L330.6 376.5L330.6 376.0L330.6 375.4L330.6 374.9L330.6 374.3L330.6 373.8L330.6 373.2L330.6 372.6L330.6 372.0L330.7 371.4L330.7 370.8L330.7 370.2L330.7 369.6L330.7 369.0L330.7 368.3L330.7 367.7L330.7 367.0L330.7 366.4L330.7 365.7L330.7 365.1L330.7 364.4L330.7 363.7L330.7 363.0L330.7 362.3L330.7 361.7L330.7 360.9L330.7 360.2L330.7 359.5L330.7 358.8L330.7 358.1L330.7 357.3L330.7 356.6L330.7 355.9L330.8 355.1L330.8 354.4L330.8 353.6L330.8 352.8L330.8 352.1L330.8 351.3L330.8 350.5L330.8 349.7L330.8 349.0L330.8 348.2L330.8 347.4L330.8 346.6L330.8 345.8L330.8 345.0L330.8 344.2L330.8 343.3L330.8 342.5L330.8 341.7L330.8 340.9L330.8 340.0L330.9 339.2L330.9 338.4L330.9 337.5L330.9 336.7L330.9 335.8L330.9 335.0L330.9 334.1L330.9 333.3L330.9 332.4L330.9 331.5L330.9 330.7L330.9 329.8L330.9 328.9L330.9 328.1L330.9 327.2L330.9 326.3L330.9 325.4L330.9 324.5L331.0 323.7L331.0 322.8L331.0 321.9L331.0 321.0L331.0 320.1L331.0 319.2L331.0 318.3L331.0 317.4L331.0 316.5L331.0 315.6L331.0 314.7L331.0 313.8L331.0 312.9L331.0 312.0L331.0 311.1L331.0 310.2L331.0 309.3L331.0 308.4L331.1 307.5L331.1 306.6L331.1 305.7L331.1 304.8L331.1 303.9L331.1 303.0L331.1 302.1L331.1 301.2L331.1 300.3L331.1 299.4L331.1 298.5L331.1 297.6L331.1 296.7L331.1 295.8L331.1 294.9L331.1 294.0L331.1 293.1L331.1 292.2L331.1 291.3L331.2 290.4L331.2 289.5L331.2 288.6L331.2 287.7L331.2 286.8L331.2 285.9L331.2 285.0L331.2 284.2L331.2 283.3L331.2 282.4L331.2 281.5L331.2 280.6L331.2 279.8L331.2 278.9L331.2 278.0L331.2 277.2L331.2 276.3L331.2 275.4L331.2 274.6L331.2 273.7L331.2 272.9L331.2 272.0L331.3 271.2L331.3 270.3L331.3 269.5L331.3 268.7L331.3 267.8L331.3 267.0L331.3 266.2L331.3 265.3L331.3 264.5L331.3 263.7L331.3 262.9L331.3 262.1L331.3 261.3L331.3 260.5L331.3 259.7L331.3 258.9L331.3 258.1L331.3 257.3L331.3 256.5L331.3 255.7L331.3 254.9L331.3 254.1L331.3 253.3L331.3 252.5L331.3 251.7L331.3 250.9L331.3 250.1L331.3 249.3L331.3 248.5L331.3 247.7L331.4 246.9L331.4 246.1L331.4 245.3L331.4 244.5L331.4 243.7L331.4 242.9L331.4 242.1L331.4 241.3L331.4 240.5L331.4 239.7L331.4 238.9L331.4 238.1L331.4 237.3L331.4 236.5L331.4 235.7L331.4 234.9L331.4 234.1L331.4 233.3L331.4 232.5L331.4 231.7L331.4 230.9L331.4 230.1L331.4 229.3L331.4 228.5L331.4 227.7L331.4 226.9L331.4 226.1L331.4 225.2L331.4 224.4L331.4 223.6L331.4 222.8L331.4 222.0L331.4 221.2L331.4 220.4L331.4 219.6L331.4 218.8L331.4 218.0L331.4 217.2L331.4 216.4L331.4 215.6L331.4 214.8L331.4 214.0L331.5 213.2L331.5 212.4L331.5 211.6L331.5 210.8L331.5 210.0L331.5 209.1L331.5 208.3L331.5 207.5L331.5 206.7L331.5 205.9L331.5 205.1L331.5 204.3L331.5 203.5L331.5 202.7L331.5 201.9L331.5 201.1L331.5 200.3L331.5 199.5L331.5 198.7L331.5 197.9L331.5 197.1L331.5 196.3L331.5 195.5L331.5 194.7L331.5 193.9L331.5 193.1L331.5 192.3L331.5 191.5L331.5 190.7L331.5 189.9L331.5 189.1L331.5 188.3L331.5 187.5L331.5 186.7L331.5 185.9L331.5 185.1L331.5 184.3L331.5 183.5L331.5 182.7L331.5 181.9L331.5 181.1L331.5 180.3L331.5 179.5L331.5 178.7L331.5 177.9L331.5 177.1L331.5 176.4L331.5 175.6L331.5 174.8L331.5 174.0L331.5 173.2L331.5 172.4L331.5 171.6L331.5 170.8L331.5 170.0L331.5 169.2L331.5 168.5L331.5 167.7L331.5 166.9L331.5 166.1L331.6 165.3L331.6 164.5L331.6 163.7L331.6 163.0L331.6 162.2L331.6 161.4L331.6 160.6L331.6 159.8L331.6 159.0L331.6 158.3L331.6 157.5L331.6 156.7L331.6 155.9L331.6 155.1L331.6 154.4L331.6 153.6L331.6 152.8L331.6 152.0L331.6 151.3L331.6 150.5L331.6 149.7L331.6 148.9L331.6 148.2L331.6 147.4L331.6 146.6L331.6 145.9L331.6 145.1L331.6 144.3L331.6 143.6L331.6 142.8L331.6 142.0L331.6 141.3L331.6 140.5L331.6 139.7L331.6 138.8L331.6 138.0L331.6 137.2L331.6 136.3L331.6 135.5L331.6 134.6L331.6 133.7L331.6 132.9L331.6 132.0L331.6 131.1L331.6 130.3L331.6 129.4L331.6 128.5L331.6 127.6L331.6 126.8L331.6 125.9L331.6 125.0L331.6 124.1L331.6 123.2L331.6 122.3L331.6 121.4L331.6 120.5L331.6 119.6L331.6 118.7L331.6 117.8L331.6 116.9L331.6 116.0L331.7 115.1L331.7 114.2L331.7 113.3L331.7 112.4L331.7 111.5L331.7 110.5L331.7 109.6L331.7 108.7L331.7 107.8L331.7 106.9L331.7 106.0L331.7 105.0L331.7 104.1L331.7 103.2L331.7 102.3L331.7 101.4L331.7 100.5L331.7 99.5L331.7 98.6L331.7 97.7L331.7 96.8L331.7 95.9L331.7 95.0L331.7 94.1L331.7 93.2L331.7 92.2L331.7 91.3L331.7 90.4L331.7 89.5L331.7 88.6L331.7 87.7L331.7 86.8L331.7 85.9L331.7 85.0L331.7 84.1L331.7 83.2L331.7 82.3L331.7 81.5L331.7 80.6L331.7 79.7L331.7 78.8L331.7 77.9L331.7 77.1L331.7 76.2L331.7 75.3L331.7 74.5L331.7 73.6L331.7 72.7L331.7 71.9L331.7 71.0L331.7 70.2L331.7 69.3L331.7 68.5L331.7 67.7L331.7 66.8L331.7 66.0L331.7 65.2L331.7 64.4L331.7 63.6L331.7 62.7L331.7 61.9L331.7 61.1L331.7 60.4L331.8 59.6L331.8 58.8L331.8 58.0L331.8 57.2L331.8 56.5L331.8 55.7L331.8 54.9L331.8 54.2L331.8 53.4L331.8 52.7L331.8 52.0L331.8 51.2L331.8 50.5L331.8 49.8L331.8 49.1L331.8 48.4L331.8 47.7L331.8 47.0L331.8 46.3L331.8 45.7L331.8 45.0L331.8 44.3L331.8 43.7L331.8 43.0L331.8 42.4L331.8 41.8L331.8 41.1L331.8 40.5L331.8 39.9L331.8 39.3L331.8 38.7L331.8 38.1L331.8 37.6L331.8 37.0L331.8 36.4L331.8 35.9L331.8 35.3L331.8 34.8L331.8 34.3L331.8 33.8L331.8 33.3L331.8 32.8L331.8 32.3L331.8 31.8L331.8 31.3L331.8 30.9L331.8 30.4L331.8 30.0L331.8 25.9L331.8 22.8L331.8 20.6L331.8 19.2L331.8 18.4L331.8 18.1L331.8 18.2L331.8 18.5L331.8 19.0L331.8 19.6L331.8 20.0L331.8 20.2L331.8 20.0M356.4 20.0L356.4 20.2L356.4 20.0L356.4 19.6L356.4 19.0L356.4 18.5L356.4 18.2L356.4 18.1L356.4 18.4L356.4 19.2L356.4 20.6L356.4 22.8L356.4 25.9L356.4 30.0L356.4 30.4L356.4 30.9L356.4 31.3L356.4 31.8L356.4 32.3L356.4 32.8L356.4 33.3L356.4 33.8L356.4 34.3L356.4 34.8L356.4 35.3L356.4 35.9L356.4 36.4L356.4 37.0L356.4 37.6L356.4 38.1L356.4 38.7L356.4 39.3L356.4 39.9L356.5 40.5L356.5 41.1L356.5 41.8L356.5 42.4L356.5 43.0L356.5 43.7L356.5 44.3L356.5 45.0L356.5 45.7L356.5 46.3L356.5 47.0L356.5 47.7L356.5 48.4L356.5 49.1L356.5 49.8L356.5 50.5L356.5 51.2L356.5 52.0L356.5 52.7L356.5 53.4L356.5 54.2L356.5 54.9L356.5 55.7L356.5 56.5L356.5 57.2L356.5 58.0L356.5 58.8L356.5 59.6L356.5 60.4L356.6 61.1L356.6 61.9L356.6 62.7L356.6 63.6L356.6 64.4L356.6 65.2L356.6 66.0L356.6 66.8L356.6 67.7L356.6 68.5L356.6 69.3L356.6 70.2L356.6 71.0L356.6 71.9L356.6 72.7L356.6 73.6L356.6 74.5L356.6 75.3L356.6 76.2L356.6 77.1L356.6 77.9L356.6 78.8L356.6 79.7L356.6 80.6L356.7 81.5L356.7 82.3L356.7 83.2L356.7 84.1L356.7 85.0L356.7 85.9L356.7 86.8L356.7 87.7L356.7 88.6L356.7 89.5L356.7 90.4L356.7 91.3L356.7 92.2L356.7 93.2L356.7 94.1L356.7 95.0L356.7 95.9L356.7 96.8L356.7 97.7L356.7 98.6L356.7 99.5L356.8 100.5L356.8 101.4L356.8 102.3L356.8 103.2L356.8 104.1L356.8 105.0L356.8 106.0L356.8 106.9L356.8 107.8L356.8 108.7L356.8 109.6L356.8 110.5L356.8 111.5L356.8 112.4L356.8 113.3L356.8 114.2L356.8 115.1L356.8 116.0L356.8 116.9L356.9 117.8L356.9 118.7L356.9 119.6L356.9 120.5L356.9 121.4L356.9 122.3L356.9 123.2L356.9 124.1L356.9 125.0L356.9 125.9L356.9 126.8L356.9 127.6L356.9 128.5L356.9 129.4L356.9 130.3L356.9 131.1L356.9 132.0L356.9 132.9L357.0 133.7L357.0 134.6L357.0 135.5L357.0 136.3L357.0 137.2L357.0 138.0L357.0 138.8L357.0 139.7L357.0 140.5L357.0 141.3L357.0 142.0L357.0 142.8L357.0 143.6L357.0 144.4L357.0 145.1L357.0 145.9L357.0 146.7L357.0 147.5L357.1 148.3L357.1 149.1L357.1 149.9L357.1 150.7L357.1 151.5L357.1 152.3L357.1 153.1L357.1 153.9L357.1 154.7L357.1 155.5L357.1 156.3L357.1 157.1L357.1 157.9L357.1 158.7L357.1 159.6L357.1 160.4L357.1 161.2L357.2 162.0L357.2 162.9L357.2 163.7L357.2 164.5L357.2 165.4L357.2 166.2L357.2 167.0L357.2 167.9L357.2 168.7L357.2 169.5L357.2 170.4L357.2 171.2L357.2 172.1L357.2 172.9L357.2 173.7L357.2 174.6L357.2 175.4L357.3 176.3L357.3 177.1L357.3 178.0L357.3 178.8L357.3 179.7L357.3 180.5L357.3 181.4L357.3 182.2L357.3 183.1L357.3 183.9L357.3 184.8L357.3 185.6L357.3 186.5L357.3 187.3L357.3 188.2L357.3 189.0L357.4 189.9L357.4 190.7L357.4 191.6L357.4 192.4L357.4 193.3L357.4 194.1L357.4 195.0L357.4 195.8L357.4 196.7L357.4 197.5L357.4 198.4L357.4 199.2L357.4 200.1L357.4 200.9L357.4 201.8L357.5 202.6L357.5 203.5L357.5 204.3L357.5 205.1L357.5 206.0L357.5 206.8L357.5 207.7L357.5 208.5L357.5 209.3L357.5 210.2L357.5 211.0L357.5 211.8L357.5 212.7L357.5 213.5L357.5 214.3L357.6 215.1L357.6 216.0L357.6 216.8L357.6 217.6L357.6 218.4L357.6 219.3L357.6 220.1L357.6 220.9L357.6 221.7L357.6 222.5L357.6 223.3L357.6 224.1L357.6 224.9L357.6 225.7L357.7 226.5L357.7 227.3L357.7 228.1L357.7 228.9L357.7 229.7L357.7 230.5L357.7 231.3L357.7 232.0L357.7 232.8L357.7 233.6L357.7 234.4L357.7 235.1L357.7 235.9L357.7 236.7L357.8 237.4L357.8 238.2L357.8 238.9L357.8 239.7L357.8 240.4L357.8 241.2L357.8 241.9L357.8 242.7L357.8 243.4L357.8 244.1L357.8 244.9L357.8 245.6L357.8 246.3L357.8 247.0L357.9 247.7L357.9 248.4L357.9 249.2L357.9 249.9L357.9 250.6L357.9 251.2L357.9 251.9L357.9 252.6L357.9 253.3L357.9 254.0L357.9 254.6L357.9 255.3L357.9 256.0L358.0 256.6L358.0 257.3L358.0 257.9L358.0 258.6L358.0 259.2L358.0 259.9L358.0 260.5L358.0 261.6L358.0 262.6L358.0 263.7L358.1 264.7L358.1 265.8L358.1 266.8L358.1 267.8L358.1 268.8L358.1 269.8L358.1 270.8L358.1 271.8L358.2 272.7L358.2 273.7L358.2 274.7L358.2 275.6L358.2 276.5L358.2 277.5L358.2 278.4L358.3 279.3L358.3 280.2L358.3 281.1L358.3 282.0L358.3 282.9L358.3 283.7L358.3 284.6L358.3 285.5L358.4 286.3L358.4 287.2L358.4 288.0L358.4 288.8L358.4 289.7L358.4 290.5L358.4 291.3L358.5 292.1L358.5 292.9L358.5 293.7L358.5 294.5L358.5 295.3L358.5 296.1L358.5 296.8L358.6 297.6L358.6 298.4L358.6 299.1L358.6 299.9L358.6 300.6L358.6 301.4L358.7 302.1L358.7 302.9L358.7 303.6L358.7 304.3L358.7 305.0L358.7 305.8L358.7 306.5L358.8 307.2L358.8 307.9L358.8 308.6L358.8 309.3L358.8 310.0L358.8 310.7L358.8 311.4L358.9 312.1L358.9 312.8L358.9 313.5L358.9 314.2L358.9 314.9L358.9 315.6L359.0 316.3L359.0 316.9L359.0 317.6L359.0 318.3L359.0 319.0L359.0 319.7L359.1 320.3L359.1 321.0L359.1 321.7L359.1 322.4L359.1 323.0L359.1 323.7L359.1 324.4L359.2 325.1L359.2 325.8L359.2 326.4L359.2 327.1L359.2 327.8L359.2 328.5L359.3 329.1L359.3 329.8L359.3 330.5L359.3 331.5L359.3 332.4L359.4 333.4L359.4 334.3L359.4 335.3L359.5 336.2L359.5 337.1L359.5 338.1L359.5 339.0L359.6 340.0L359.6 340.9L359.6 341.8L359.6 342.8L359.7 343.7L359.7 344.6L359.7 345.5L359.8 346.5L359.8 347.4L359.8 348.3L359.8 349.2L359.9 350.1L359.9 351.0L359.9 351.9L360.0 352.8L360.0 353.6L360.0 354.5L360.1 355.4L360.1 356.2L360.1 357.1L360.1 357.9L360.2 358.8L360.2 359.6L360.2 360.4L360.3 361.2L360.3 362.0L360.3 362.8L360.4 363.6L360.4 364.4L360.4 365.2L360.4 366.0L360.5 366.7L360.5 367.5L360.5 368.2L360.6 368.9L360.6 369.6L360.6 370.3L360.6 371.0L360.7 371.7L360.7 372.4L360.7 373.0L360.7 373.7L360.8 374.3L360.8 375.0L360.8 375.6L360.8 376.2L360.9 376.8L360.9 377.3L360.9 377.9L360.9 378.4L360.9 379.0L361.0 379.5L361.0 380.0L361.0 380.5L361.1 382.5L361.1 384.1L361.2 385.5L361.2 386.5L361.3 387.3L361.3 388.0L361.4 388.5L361.4 388.9L361.4 389.2L361.5 389.6L361.5 389.9L361.6 390.4L361.6 390.9L361.7 391.6L361.7 392.4L361.8 393.2L361.9 394.0L362.0 394.8L362.1 395.7L362.2 396.5L362.2 397.3L362.3 398.1L362.4 398.9L362.5 399.7L362.6 400.5L362.7 401.2L362.8 402.0L363.0 402.7L363.1 403.6L363.2 404.4L363.4 405.2L363.5 406.0L363.7 406.9L363.8 407.6L364.0 408.4L364.1 409.2L364.3 409.9L364.5 410.6L364.6 411.3L364.8 412.0L365.0 412.8L365.3 413.6L365.5 414.4L365.7 415.2L366.0 415.9L366.2 416.5L366.5 417.2L366.7 417.8L367.0 418.5L367.4 419.1L367.8 419.8L368.2 420.5L368.6 421.1L369.0 421.7L369.5 422.2L369.9 422.7L370.4 423.1L371.1 423.7L371.8 424.1L372.6 424.4L373.3 424.6L374.1 424.6L374.7 424.3L375.3 423.8L375.9 423.1L376.5 422.5L377.1 422.0L377.8 421.6L378.5 421.5L379.3 421.6L380.0 421.7L380.8 421.9L381.6 422.1L382.4 422.2L383.2 422.2L384.0 422.1L384.8 422.0L385.6 421.9L386.3 421.9L387.0 422.0L387.9 422.2L388.6 422.5L389.4 422.8L390.1 423.2L390.7 423.5L391.5 423.8L392.1 424.1L392.7 424.3L393.5 424.4L394.1 424.3L394.7 424.2L395.4 423.9L396.1 423.7L396.8 423.5L397.5 423.2L398.1 423.1L398.9 423.0L399.7 422.8L400.5 422.7L401.3 422.7L402.1 422.7L402.8 422.7L403.4 422.9L404.0 423.2L404.6 423.5L405.2 423.8L405.8 424.2L406.5 424.4L407.2 424.6L408.0 424.7L408.8 424.8L409.6 424.8L410.4 424.9L411.1 424.9L411.9 424.9L412.6 424.9L413.3 424.8L414.0 424.8L414.8 424.9L415.4 425.1L416.0 425.4L416.7 425.6L417.4 426.0L418.1 426.3L418.8 426.6L419.4 426.9L420.0 427.2L420.8 427.5L421.6 427.8L422.3 428.1L423.0 428.4L423.7 428.6L424.4 429.0L425.1 429.3L425.9 429.7L426.6 430.0L427.4 430.1L428.1 430.1L428.9 430.0L429.7 429.8L430.5 429.5L431.3 429.3L432.0 429.3L432.6 430.0L433.4 430.1L434.0 430.3L434.7 430.5L435.3 430.8L436.0 431.0L436.7 431.4L437.4 431.3L438.3 431.1L439.0 430.7L439.8 430.6L440.6 430.4L441.3 430.5L442.0 430.9L442.6 430.6L443.3 431.4L444.1 431.2L444.7 431.8L445.3 432.3L446.0 432.3L446.6 432.4L447.3 432.6L447.9 433.3L448.4 433.6L449.0 433.6L449.6 434.2L450.2 434.4L450.7 435.3L451.2 435.8L451.7 436.3L452.3 437.1L452.9 437.8L453.3 438.5L454.0 438.6L454.8 439.1L455.5 439.0L456.1 439.2L457.0 439.5L457.7 439.3L458.5 439.3L459.4 439.5L460.2 439.5L461.0 439.2L461.9 439.2L462.6 439.3L463.5 439.3L464.0 439.4L464.7 438.7L465.5 438.8L466.3 439.0L466.8 439.2L467.5 439.2L468.2 439.3L469.0 439.5L469.7 439.7L470.5 439.3L471.1 439.6L471.8 439.8L472.6 439.8L473.4 439.7L474.1 440.0L475.0 440.1L475.7 440.3L476.5 440.2L477.4 440.1L478.0 440.3L478.9 440.6L479.5 440.6L480.3 440.5L481.2 440.4L481.8 440.8L482.5 440.8L483.3 440.5L483.9 440.8L484.8 440.3L485.6 440.7L486.3 440.5L486.9 439.8L487.8 439.9L488.6 439.7L489.3 440.0L490.1 439.9L490.8 440.0L491.6 440.2L492.5 440.0L493.2 440.4L494.1 440.2L494.8 440.6L495.5 440.9L496.2 441.0L496.8 440.9L497.5 441.1L498.2 441.5L499.0 441.2L499.6 441.5L500.5 441.5L501.1 441.7L501.9 442.0L502.7 441.8L503.4 441.9L504.4 442.3L505.1 442.3L505.9 442.5L506.6 442.6L507.4 442.7L508.1 442.6L509.0 443.0L509.7 443.2L510.5 442.9L511.1 443.3L512.0 443.3L512.7 443.7L513.5 443.3L514.3 443.9L515.0 443.6L515.9 444.0L516.6 443.9L517.4 444.1L518.2 444.2L518.8 444.0L519.6 444.2L520.2 444.5L521.0 444.8L521.7 444.7L522.4 445.0L523.0 445.4L523.7 445.1L524.6 445.3L525.2 445.4L526.0 445.8L526.6 446.0L527.5 445.6L528.0 445.6L528.8 445.2L529.5 445.1L530.0 444.2L530.7 444.0L531.3 443.9L532.1 443.7L532.8 443.3L533.6 443.2L534.3 443.0L535.1 442.8L535.7 442.5L536.4 442.6L537.1 442.2L537.7 442.2L538.5 442.4L539.3 442.4L540.0 442.4L540.8 442.1L541.6 442.5L542.2 442.6L543.0 442.7L543.9 442.9L544.7 443.0L545.3 443.3L546.1 443.4L547.0 443.2L547.9 443.2L548.6 443.6L549.2 444.1L549.8 444.4L550.6 444.5L551.1 445.2L551.8 445.6L552.3 445.8L552.9 446.1L553.5 446.6L554.0 447.3L554.5 447.8L555.1 448.0L555.6 448.9L556.1 448.8L556.6 449.3L557.4 449.7L558.2 449.9L558.9 450.1L559.5 450.0L560.3 450.1L561.1 450.1L561.8 449.9L562.6 449.7L563.5 449.5L564.2 449.3L565.0 449.4L565.8 449.4L566.5 449.8L567.4 449.6L568.1 449.8L568.8 450.4L569.6 450.6L570.2 450.9L570.9 450.6L571.6 451.1L572.4 451.1L573.0 451.5L573.6 451.6L574.3 451.5L575.0 452.0L575.7 452.3L576.3 452.4L576.9 452.8L577.7 453.3L578.3 453.7L578.9 453.9L579.6 453.4L580.5 453.6L581.1 453.4L581.9 453.1L582.7 452.7L583.4 452.5L584.3 452.5L585.0 452.9L585.9 452.8L586.6 452.8L587.4 453.1L588.3 453.0L589.0 453.4L589.8 453.6L590.5 453.8L591.2 453.7L591.9 453.8L592.6 453.8L593.4 454.2L594.1 454.5L594.7 454.8L595.4 454.8L596.0 454.9L596.7 455.3L597.3 455.2L598.0 455.4L598.6 455.9L599.3 456.2L599.9 456.2L600.5 456.9L601.3 456.8L602.0 457.5L602.6 457.6L603.2 457.7L603.9 458.5L604.6 458.6L605.2 459.0L606.0 459.5L606.6 459.5L607.2 460.3L607.8 460.3L608.5 460.5L609.2 460.8L610.0 461.1L610.8 460.9L611.5 461.1L612.4 460.9L613.1 460.9L613.9 460.9L614.8 461.2L615.6 461.3L616.3 460.9L617.2 461.1L617.8 461.1L618.5 461.5L619.2 461.9L619.9 462.4L620.5 463.0L621.2 462.7L621.7 462.7L622.2 462.4L622.7 461.5L623.1 461.0L623.6 460.3L624.4 460.5L624.9 460.2L625.6 460.4L626.4 460.2L627.1 460.5L627.6 460.8L628.2 461.0L629.0 461.2L629.6 461.5L630.2 461.5L630.9 461.6L631.7 462.0L632.4 462.1L633.1 462.1L633.9 461.7L634.7 461.6L635.5 461.4L636.3 461.2L637.0 460.9L637.8 461.0L638.7 460.7L639.4 460.5L640.2 460.7L641.1 460.6L641.9 460.6L642.6 460.4L643.1 460.2L643.8 459.8L644.6 460.0L645.4 460.1L645.9 460.3L646.6 460.2L647.5 460.1L648.3 459.6L649.0 459.7L649.8 459.9L650.4 459.4L651.3 460.0L652.0 459.9L652.9 459.9L653.6 459.3L654.4 460.0L655.2 459.6L656.1 459.3L656.8 459.7L657.7 459.9L658.6 460.2L659.2 459.8L660.0 459.8L660.9 459.9L661.8 460.0L662.4 459.9L663.3 459.9L664.1 459.8L664.6 459.3L665.5 460.0L666.4 459.5L667.2 459.7L668.0 460.2L668.6 459.9L669.6 460.5L670.3 460.5L671.1 459.9L671.8 460.0L672.7 459.7L673.4 459.6L674.4 460.3L675.1 460.1L675.8 459.9L676.8 459.7L677.6 459.8L678.2 459.5L679.0 458.9L679.8 459.6L680.7 459.3L681.3 459.0L682.2 459.5L683.0 458.8L683.7 459.6L684.2 459.2L685.0 459.8L685.8 459.7L686.5 459.8L687.1 459.7L687.8 460.6L688.7 460.4L689.4 460.3L690.2 460.5L691.0 460.6L691.7 459.7L692.4 460.5L693.4 459.7L694.3 460.3L695.0 460.6L695.7 460.4L696.6 460.6L697.3 460.0L698.1 460.0L699.0 460.4L699.6 460.3L700.4 460.7L701.2 460.7L702.1 461.1L703.0 461.1L703.7 461.1L704.4 460.9L705.2 461.2L705.8 461.4L706.6 461.7L707.3 461.9L708.0 461.8L708.6 461.8L709.2 461.7L710.0 461.8L710.6 462.4L711.3 462.1L712.0 462.3L712.9 462.6L713.4 463.0L714.2 462.4L714.8 463.0L715.6 462.5L716.4 462.9L717.2 463.1L717.9 462.8L718.8 462.7L719.6 462.8L720.3 463.3L721.2 463.1L721.9 463.0L722.7 463.7L723.4 463.1L724.3 463.4L725.2 463.3L725.9 464.1L726.7 464.2L727.3 463.6L728.0 463.6L728.7 464.6L729.4 464.4L730.1 464.6L730.8 464.9L731.5 464.5L732.2 464.4L733.0 465.1L733.7 464.9L734.7 465.3L735.3 465.0L736.3 465.1L736.9 465.4L737.9 465.0L738.5 465.0L739.1 465.6L740.0 465.6L740.4 466.2L741.2 465.4L742.1 465.6L742.6 465.7L743.3 466.6L743.9 466.2L744.8 466.3L745.6 467.1L746.3 467.0L747.2 467.0L747.9 466.9L748.4 467.3L748.8 467.7L749.5 467.7L749.9 467.7L750.5 467.6L751.2 467.6L752.2 467.7L752.8 467.3L753.8 467.7L754.5 468.0L755.4 467.3L756.2 467.6L756.8 467.7L757.7 468.1L758.6 468.1L759.4 468.1L759.9 468.1L760.7 468.3L761.5 468.7L762.3 468.7L763.0 468.5L763.8 468.3L764.5 469.1L765.4 469.1L766.1 469.0L767.0 468.7L767.7 468.5L768.5 469.0L769.3 468.2L770.1 469.0L770.8 469.0L771.7 468.7L772.4 468.5L773.4 469.0L774.2 468.6L774.9 468.9L775.6 468.7L776.6 469.2L777.2 469.4L777.9 469.6L778.8 469.5L779.4 469.7L780.0 470.0L780.8 470.1L781.2 470.7L781.8 470.8L782.6 470.9L783.2 470.9L783.8 471.0L784.5 470.0L785.1 470.0L785.9 470.0L786.6 469.7L787.3 469.3L788.0 469.7L788.9 469.1L789.5 469.3L790.3 468.8L791.1 469.3L792.0 468.8L792.8 469.0L793.6 469.7L794.3 469.4L795.1 469.0L795.8 469.4L796.6 469.3L797.2 469.2L798.1 469.0L798.7 468.4L799.4 468.9L800.0 468.0L800.4 468.1"/>
</g>
<g stroke-width="5.4" stroke-linecap="round">
<path stroke="#3aae55" d="M513.6 136H538"/>
<path stroke="#1b2a5e" d="M513.6 164.7H538"/>
</g>
<text class="leg" fill="#3aae55" stroke="#3aae55" x="544.2" y="143.4" textLength="54.4" lengthAdjust="spacingAndGlyphs">DISCO 2</text>
<text class="leg" fill="#1b2a5e" stroke="#1b2a5e" x="544.2" y="171.9" textLength="65" lengthAdjust="spacingAndGlyphs">DISCO UV</text>
</svg></body></html>
